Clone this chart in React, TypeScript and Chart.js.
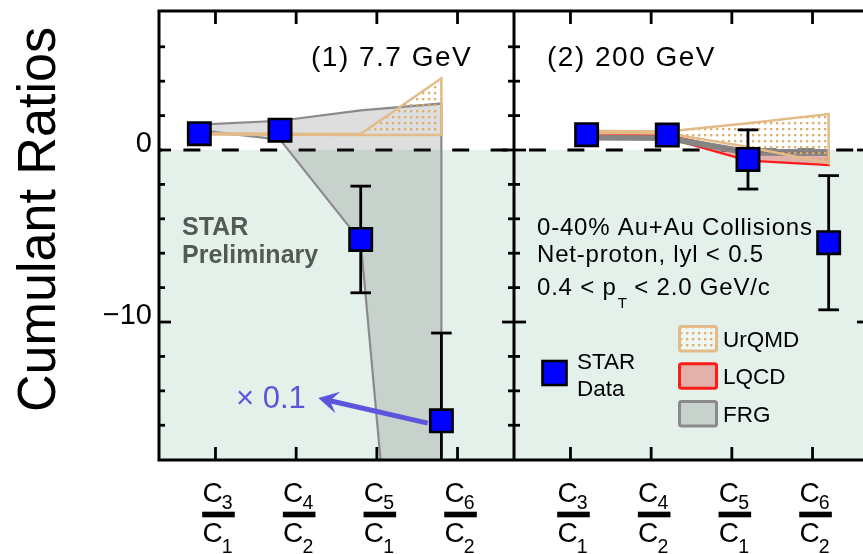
import React, { useEffect, useRef } from "react";
import { Chart, registerables } from "chart.js";

Chart.register(...registerables);

const FONT = '"Liberation Sans", Arial, Helvetica, sans-serif';

// ---------------- data ----------------
const ratioNumerators = ["3", "4", "5", "6"];
const ratioDenominators = ["1", "2", "1", "2"];
const panelTitles = ["(1) 7.7 GeV", "(2) 200 GeV"];
const yAxisTitle = "Cumulant Ratios";
const yTickLabels = [0, -10];
const yTicks = [6, 4, 2, 0, -2, -4, -6, -8, -10, -12, -14, -16];

// x positions (panel 1 on the left half, panel 2 on the right half)
const tickPos77 = [0.7, 1.7, 2.7, 3.7];
const tickPos200 = [5.1, 6.1, 7.1, 8.1];
const xPos77 = [0.5, 1.5, 2.5, 3.5];
const xPos200 = [5.3, 6.3, 7.3, 8.3];
const panelSplit = 4.4;

// STAR data
const star77 = [0.95, 1.15, -5.2, -15.74];
const star77Err = [0.05, 0.05, 3.1, 5.1];
const star200 = [0.89, 0.87, -0.55, -5.39];
const star200Err = [0.05, 0.05, 1.72, 3.9];

// model bands 7.7 GeV
const frg77Upper = [1.47, 1.7, 2.3, 2.7];
const frg77Lower = [1.15, 0.6, -5.3, -57];
const urqmd77Upper = [0.98, 0.95, 0.93, 4.17];
const urqmd77Lower = [0.9, 0.88, 0.87, 0.87];

// model bands 200 GeV
const frg200Upper = [0.8, 0.78, -0.02, -0.02];
const frg200Lower = [0.62, 0.6, -0.26, -0.28];
const lqcd200Upper = [0.88, 0.85, -0.1, -0.15];
const lqcd200Lower = [0.74, 0.7, -0.62, -0.88];
const urqmd200Upper = [1.12, 1.08, 1.56, 2.09];
const urqmd200Lower = [0.98, 0.97, 0.18, -0.77];

// annotation
const scaleNote = "\u00d7 0.1";
const arrowFrom = [3.33, -15.88];
const arrowTo = [1.975, -14.42];
const infoLines = ["0-40% Au+Au Collisions", "Net-proton, lyl < 0.5"];
const ptLine = ["0.4 < p", "T", " < 2.0 GeV/c"];
const prelimLines = ["STAR", "Preliminary"];
const legendStar = ["STAR", "Data"];
const legendModels = ["UrQMD", "LQCD", "FRG"];

// ---------------- styles ----------------
const GREEN = "#e4f1ea";
const BLUE = "#0000ff";
const FRG_FILL = "rgba(77,77,77,0.185)";
const FRG_LINE = "#8a8a8a";
const LQCD_FILL = "rgba(225,30,20,0.3)";
const LQCD_LINE = "#ff1a1a";
const URQMD_LINE = "#e2bb88";
const ARROW = "#5a55dc";
const PRELIM = "#535a56";

const W = 870;
const H = 554;

function band(xs: number[], up: number[], lo: number[]) {
  const pts = xs.map((x, i) => ({ x, y: up[i] }));
  for (let i = xs.length - 1; i >= 0; i--) pts.push({ x: xs[i], y: lo[i] });
  pts.push({ x: xs[0], y: up[0] });
  return pts;
}
function pts(xs: number[], ys: number[]) {
  return xs.map((x, i) => ({ x, y: ys[i] }));
}

export default function App() {
  const ref = useRef<HTMLCanvasElement>(null);

  useEffect(() => {
    const canvas = ref.current!;
    const ctx0 = canvas.getContext("2d")!;
    const tile = document.createElement("canvas");
    tile.width = 6;
    tile.height = 6;
    const tctx = tile.getContext("2d")!;
    tctx.fillStyle = "rgba(222,172,108,0.95)";
    tctx.fillRect(2, 2, 2, 2);
    tctx.fillStyle = "rgba(222,172,108,0.35)";
    tctx.fillRect(4, 2, 1, 2);
    tctx.fillRect(2, 4, 2, 1);
    const dots = ctx0.createPattern(tile, "repeat")!;

    const line = (ctx: CanvasRenderingContext2D, x1: number, y1: number, x2: number, y2: number) => {
      ctx.beginPath();
      ctx.moveTo(x1, y1);
      ctx.lineTo(x2, y2);
      ctx.stroke();
    };

    const errorBars = {
      id: "errorBars",
      beforeDatasetDraw(chart: any, args: any) {
        const ds: any = chart.data.datasets[args.index];
        if (!ds.errors) return;
        const { ctx, chartArea: a, scales } = chart;
        ctx.save();
        ctx.beginPath();
        ctx.rect(a.left, a.top, a.right - a.left, a.bottom - a.top);
        ctx.clip();
        ctx.strokeStyle = "#000";
        ctx.lineWidth = 2.8;
        ds.data.forEach((p: any, i: number) => {
          const e = ds.errors[i];
          const px = scales.x.getPixelForValue(p.x);
          const hi = scales.y.getPixelForValue(p.y + e);
          const lo = scales.y.getPixelForValue(p.y - e);
          line(ctx, px, hi, px, lo);
          line(ctx, px - 10.3, hi, px + 10.3, hi);
          line(ctx, px - 10.3, lo, px + 10.3, lo);
        });
        ctx.restore();
      },
    };

    const deco = {
      id: "deco",
      beforeDatasetsDraw(chart: any) {
        const { ctx, chartArea: a, scales } = chart;
        const y0 = scales.y.getPixelForValue(0);
        ctx.save();
        ctx.fillStyle = GREEN;
        ctx.fillRect(a.left, y0, a.right - a.left, a.bottom - y0);
        ctx.strokeStyle = "#000";
        ctx.lineWidth = 2.8;
        ctx.setLineDash([17, 21.4]);
        ctx.lineDashOffset = 14;
        line(ctx, a.left, y0, a.right, y0);
        ctx.restore();
      },
      afterDraw(chart: any) {
        const { ctx, chartArea: a, scales } = chart;
        const X = (v: number) => scales.x.getPixelForValue(v);
        const Y = (v: number) => scales.y.getPixelForValue(v);
        ctx.save();
        ctx.setLineDash([]);
        ctx.lineCap = "butt";

        // arrow
        const tx = X(arrowFrom[0]), ty = Y(arrowFrom[1]);
        const hx = X(arrowTo[0]), hy = Y(arrowTo[1]);
        const dx = hx - tx, dy = hy - ty;
        const len = Math.hypot(dx, dy);
        const ux = dx / len, uy = dy / len;
        const nx = -uy, ny = ux;
        ctx.strokeStyle = ARROW;
        ctx.fillStyle = ARROW;
        ctx.lineWidth = 5;
        line(ctx, tx, ty, hx - ux * 12, hy - uy * 12);
        ctx.beginPath();
        ctx.moveTo(hx, hy);
        ctx.lineTo(hx - ux * 20 + nx * 11, hy - uy * 20 + ny * 11);
        ctx.lineTo(hx - ux * 12, hy - uy * 12);
        ctx.lineTo(hx - ux * 20 - nx * 11, hy - uy * 20 - ny * 11);
        ctx.closePath();
        ctx.fill();
        ctx.font = `31px ${FONT}`;
        ctx.textAlign = "left";
        ctx.textBaseline = "alphabetic";
        ctx.fillText(scaleNote, 236, 407.5);

        // frame
        ctx.strokeStyle = "#000";
        ctx.lineWidth = 3;
        ctx.strokeRect(a.left, a.top, a.right - a.left, a.bottom - a.top);
        const xs = X(panelSplit);
        line(ctx, xs, a.top, xs, a.bottom);
        ctx.lineWidth = 2.8;
        [...tickPos77, ...tickPos200].forEach((tv) => {
          const px = X(tv);
          line(ctx, px, a.top, px, a.top + 13);
          line(ctx, px, a.bottom, px, a.bottom - 13);
        });
        yTicks.forEach((v) => {
          const py = Y(v);
          const l = v % 10 === 0 ? 12 : 6;
          line(ctx, a.left, py, a.left + l, py);
          line(ctx, xs - l, py, xs + l, py);
          line(ctx, a.right - l, py, a.right, py);
        });

        // y tick labels
        ctx.fillStyle = "#000";
        ctx.font = `29px ${FONT}`;
        ctx.textAlign = "right";
        yTickLabels.forEach((v) => {
          const s = v < 0 ? "\u2212" + Math.abs(v) : String(v);
          ctx.fillText(s, 152, Y(v) + 2);
        });

        // y title
        ctx.save();
        ctx.translate(54.5, 219.5);
        ctx.rotate(-Math.PI / 2);
        ctx.textAlign = "center";
        ctx.font = `54px ${FONT}`;
        ctx.fillText(yAxisTitle, 0, 0, 385);
        ctx.restore();

        // fraction labels
        ctx.textAlign = "left";
        [...tickPos77, ...tickPos200].forEach((tv, i) => {
          const cx = X(tv) + 3;
          ctx.font = `28px ${FONT}`;
          ctx.fillText("C", cx - 16.1, a.bottom + 41.5);
          ctx.fillText("C", cx - 16.1, a.bottom + 81.5);
          ctx.font = `19.5px ${FONT}`;
          ctx.fillText(ratioNumerators[i % 4], cx + 3.3, a.bottom + 49);
          ctx.fillText(ratioDenominators[i % 4], cx + 3.3, a.bottom + 93);
          ctx.fillRect(cx - 16.3, a.bottom + 51.7, 32.6, 5.6);
        });

        // panel titles
        ctx.font = `28px ${FONT}`;
        (ctx as any).letterSpacing = "1.5px";
        ctx.fillText(panelTitles[0], 311, 66);
        ctx.fillText(panelTitles[1], 547, 66);

        // info text
        ctx.font = `24px ${FONT}`;
        (ctx as any).letterSpacing = "0.8px";
        ctx.fillText(infoLines[0], 537, 235);
        ctx.fillText(infoLines[1], 537, 261.5);
        let px = 537;
        ctx.fillText(ptLine[0], px, 295);
        px += ctx.measureText(ptLine[0]).width + 1;
        ctx.font = `15px ${FONT}`;
        (ctx as any).letterSpacing = "0px";
        ctx.fillText(ptLine[1], px, 308);
        px += ctx.measureText(ptLine[1]).width;
        ctx.font = `24px ${FONT}`;
        (ctx as any).letterSpacing = "0.8px";
        ctx.fillText(ptLine[2], px, 295);
        (ctx as any).letterSpacing = "0px";

        // STAR preliminary
        ctx.fillStyle = PRELIM;
        ctx.font = `bold 25px ${FONT}`;
        ctx.fillText(prelimLines[0], 182, 235);
        ctx.fillText(prelimLines[1], 182, 263);

        // legend: STAR data
        ctx.fillStyle = BLUE;
        ctx.fillRect(542.5, 361, 24, 24);
        ctx.strokeStyle = "#000";
        ctx.lineWidth = 2.6;
        ctx.strokeRect(542.5, 361, 24, 24);
        ctx.fillStyle = "#000";
        ctx.font = `22.5px ${FONT}`;
        ctx.fillText(legendStar[0], 577, 369);
        ctx.fillText(legendStar[1], 577, 396);

        // legend: models
        const boxes = [
          { y: 326.5, fill: dots, stroke: URQMD_LINE, under: "rgba(255,255,255,0.45)" },
          { y: 363.8, fill: LQCD_FILL, stroke: LQCD_LINE, under: null },
          { y: 401.5, fill: FRG_FILL, stroke: FRG_LINE, under: null },
        ];
        boxes.forEach((b, i) => {
          ctx.beginPath();
          ctx.roundRect(679.5, b.y, 37, 24.5, 2);
          if (b.under) {
            ctx.fillStyle = b.under;
            ctx.fill();
          }
          ctx.fillStyle = b.fill as any;
          ctx.fill();
          ctx.strokeStyle = b.stroke;
          ctx.lineWidth = 3;
          ctx.stroke();
          ctx.fillStyle = "#000";
          ctx.fillText(legendModels[i], 723, b.y + 20.2);
        });
        ctx.restore();
      },
    };

    const bandDs = (label: string, data: any[], fill: any, border: string, bw: number, order: number) => ({
      label,
      data,
      fill: "shape",
      backgroundColor: fill,
      borderColor: border,
      borderWidth: bw,
      pointRadius: 0,
      tension: 0,
      order,
    });
    const pointDs = (label: string, data: any[], errors: number[]) => ({
      label,
      data,
      errors,
      showLine: false,
      pointStyle: "rect",
      pointRadius: 15.8,
      pointBackgroundColor: BLUE,
      pointBorderColor: "#000",
      pointBorderWidth: 2.6,
      order: 0,
    });

    const chart = new Chart(canvas, {
      type: "line",
      data: {
        datasets: [
          pointDs("STAR 7.7 GeV", pts(xPos77, star77), star77Err),
          pointDs("STAR 200 GeV", pts(xPos200, star200), star200Err),
          bandDs("UrQMD 7.7", band(xPos77, urqmd77Upper, urqmd77Lower), dots, URQMD_LINE, 2.5, 1),
          bandDs("UrQMD 200", band(xPos200, urqmd200Upper, urqmd200Lower), dots, URQMD_LINE, 2.5, 1),
          bandDs("FRG 7.7", band(xPos77, frg77Upper, frg77Lower), FRG_FILL, FRG_LINE, 2.2, 2),
          bandDs("FRG 200", band(xPos200, frg200Upper, frg200Lower), "rgba(128,128,128,0.9)", "#858585", 2.5, 2),
          bandDs("LQCD 200", band(xPos200, lqcd200Upper, lqcd200Lower), LQCD_FILL, LQCD_LINE, 2.2, 3),
        ] as any,
      },
      options: {
        responsive: false,
        animation: false,
        events: [],
        layout: { autoPadding: false, padding: { left: 159, top: 11, right: 1, bottom: 94 } },
        scales: {
          x: { type: "linear", min: 0, max: 8.8, display: false },
          y: { type: "linear", min: -18.02, max: 8.08, display: false },
        },
        plugins: { legend: { display: false }, tooltip: { enabled: false } },
      },
      plugins: [deco, errorBars],
    });
    return () => chart.destroy();
  }, []);

  return (
    <div style={{ position: "absolute", left: 0, top: 0, width: 863, height: 554, overflow: "hidden", background: "#fff" }}>
      <canvas ref={ref} width={W} height={H} style={{ display: "block", width: W, height: H }} />
    </div>
  );
}
